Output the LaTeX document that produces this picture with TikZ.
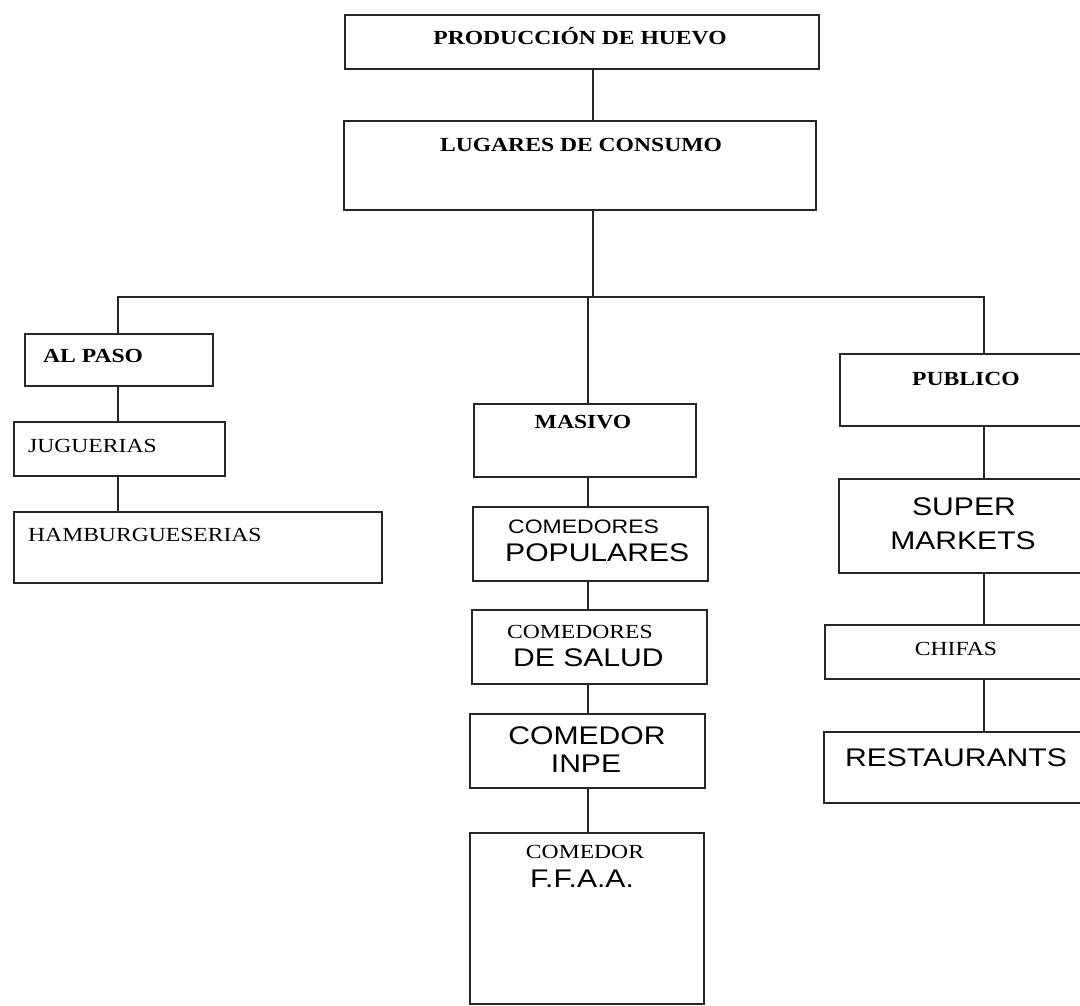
\documentclass[tikz,border=0pt]{standalone}
\usepackage{fontspec}
\setmainfont{Liberation Serif}[FakeStretch=1.18]
\setsansfont{Liberation Sans}[FakeStretch=1.18]
\usetikzlibrary{positioning}

\tikzset{
  box/.style={draw=black!85, line width=1.6pt, anchor=north west, inner sep=0pt},
  ttl/.style={font=\fontsize{20}{24}\selectfont\bfseries, inner sep=0pt, text height=13.5pt, text depth=0pt},
  rom/.style={font=\fontsize{20}{24}\selectfont, inner sep=0pt, text height=13.2pt, text depth=0pt},
  ari/.style={font=\sffamily\fontsize{25.5}{30}\selectfont, inner sep=0pt, text height=18.3pt, text depth=0pt},
  arismall/.style={font=\sffamily\fontsize{19.5}{23}\selectfont, inner sep=0pt, text height=14pt, text depth=0pt}
}

\begin{document}
\begin{tikzpicture}[x=1pt,y=-1pt]
\useasboundingbox (0,0) rectangle (1080,1006);
\clip (0,0) rectangle (1080,1006);

% boxes
\node[box, minimum width=474pt, minimum height=54pt] (prod) at (344,14) {};
\node[box, minimum width=472pt, minimum height=89pt] (lug) at (343,120) {};

\node[box, minimum width=188pt, minimum height=52pt] (alpaso) at (24,333) {};
\node[box, minimum width=211pt, minimum height=54pt] (jug) at (13,421) {};
\node[box, minimum width=368pt, minimum height=71pt] (hamb) at (13,511) {};

\node[box, minimum width=222pt, minimum height=73pt] (mas) at (473,403) {};
\node[box, minimum width=235pt, minimum height=74pt] (popu) at (472,506) {};
\node[box, minimum width=235pt, minimum height=74pt] (salud) at (471,609) {};
\node[box, minimum width=235pt, minimum height=74pt] (inpe) at (469,713) {};
\node[box, minimum width=234pt, minimum height=171pt] (ffaa) at (469,832) {};

\node[box, minimum width=260pt, minimum height=72pt] (pub) at (839,353) {};
\node[box, minimum width=260pt, minimum height=94pt] (super) at (838,478) {};
\node[box, minimum width=274pt, minimum height=54pt] (chifas) at (824,624) {};
\node[box, minimum width=275pt, minimum height=71pt] (rest) at (823,731) {};

% texts
\node[ttl] (prodtxt) at (580,38) {PRODUCCIÓN DE HUEVO};
\node[ttl] (lugtxt) at (581,145) {LUGARES DE CONSUMO};

\node[ttl, anchor=west] (pasotxt) at (43,356) {AL PASO};
\node[rom, anchor=west] (jugtxt) at (28,446) {JUGUERIAS};
\node[rom, anchor=west] (hambtxt) at (28,535) {HAMBURGUESERIAS};

\node[ttl] (mastxt) at (583,422) {MASIVO};
\node[arismall, anchor=west] (popuA) at (508,526) {COMEDORES};
\node[ari, anchor=west] (popuB) at (505,552) {POPULARES};
\node[rom, anchor=west] (saludA) at (507,632) {COMEDORES};
\node[ari, anchor=west] (saludB) at (513,657) {DE SALUD};
\node[ari] (inpeA) at (587,735) {COMEDOR};
\node[ari] (inpeB) at (586,763) {INPE};
\node[rom] (ffaaA) at (585,852) {COMEDOR};
\node[ari] (ffaaB) at (582,878) {F.F.A.A.};

\node[ttl] (pubtxt) at (966,379) {PUBLICO};
\node[ari] (superA) at (964,506) {SUPER};
\node[ari] (superB) at (963,540) {MARKETS};
\node[rom] (chifastxt) at (956,649) {CHIFAS};
\node[ari] (resttxt) at (956,757) {RESTAURANTS};

% connectors
\coordinate (bus) at (0,297);
\coordinate (topcol) at (593,0);
\coordinate (leftcol) at (118,0);
\coordinate (midcol) at (588,0);
\coordinate (rightcol) at (984,0);

\begin{scope}[draw=black!85, line width=1.6pt]
\draw (prod.south -| topcol) -- (lug.north -| topcol);
\draw (lug.south -| topcol) -- (bus -| topcol);
\draw (alpaso.north -| leftcol) -- (bus -| leftcol) -- (bus -| rightcol) -- (pub.north -| rightcol);

\draw (alpaso.south -| leftcol) -- (jug.north -| leftcol);
\draw (jug.south -| leftcol) -- (hamb.north -| leftcol);

\draw (bus -| midcol) -- (mas.north -| midcol);
\foreach \a/\b in {mas/popu, popu/salud, salud/inpe, inpe/ffaa}
  \draw (\a.south -| midcol) -- (\b.north -| midcol);

\foreach \a/\b in {pub/super, super/chifas, chifas/rest}
  \draw (\a.south -| rightcol) -- (\b.north -| rightcol);
\end{scope}
\end{tikzpicture}
\end{document}
